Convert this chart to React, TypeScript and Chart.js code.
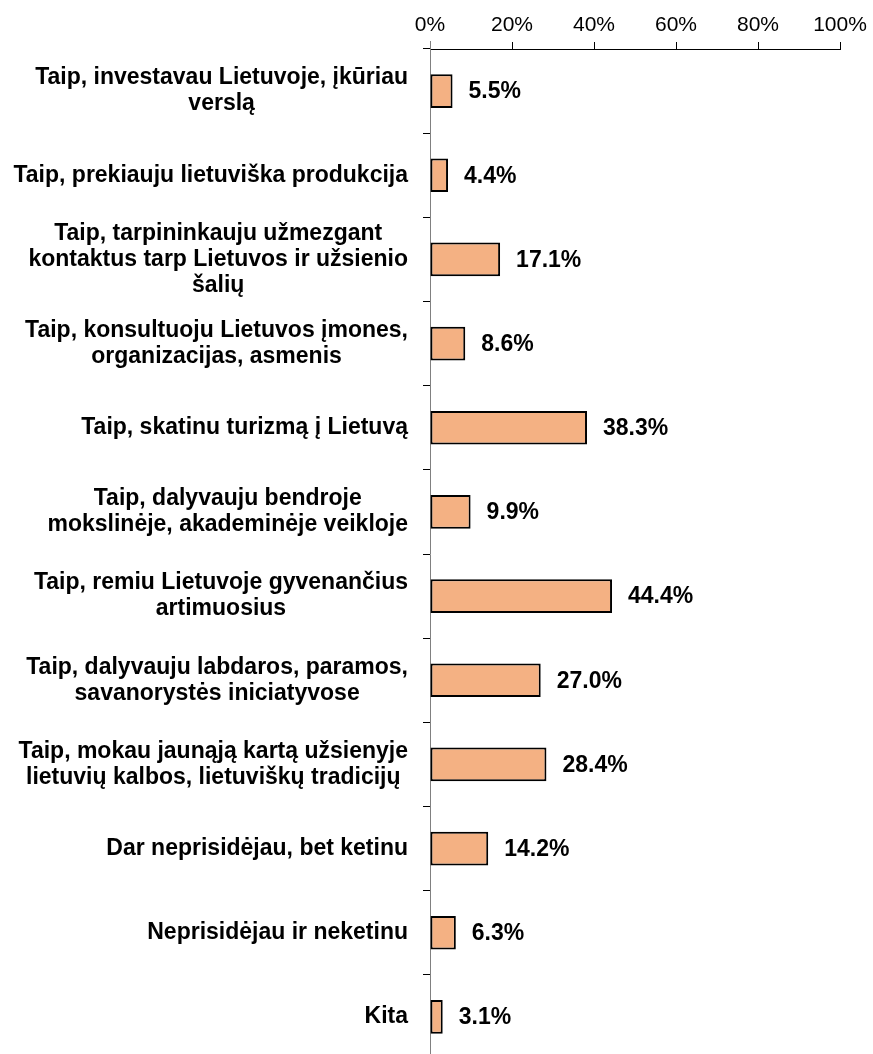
import React, { useEffect, useRef } from "react";
import { Chart, registerables } from "chart.js";

Chart.register(...registerables);

const categories: string[][] = [
  ["Taip, investavau Lietuvoje, įkūriau", "verslą"],
  ["Taip, prekiauju lietuviška produkcija"],
  ["Taip, tarpininkauju užmezgant", "kontaktus tarp Lietuvos ir užsienio", "šalių"],
  ["Taip, konsultuoju Lietuvos įmones,", "organizacijas, asmenis"],
  ["Taip, skatinu turizmą į Lietuvą"],
  ["Taip, dalyvauju bendroje", "mokslinėje, akademinėje veikloje"],
  ["Taip, remiu Lietuvoje gyvenančius", "artimuosius"],
  ["Taip, dalyvauju labdaros, paramos,", "savanorystės iniciatyvose"],
  ["Taip, mokau jaunąją kartą užsienyje", "lietuvių kalbos, lietuviškų tradicijų"],
  ["Dar neprisidėjau, bet ketinu"],
  ["Neprisidėjau ir neketinu"],
  ["Kita"],
];

const values: number[] = [5.5, 4.4, 17.1, 8.6, 38.3, 9.9, 44.4, 27.0, 28.4, 14.2, 6.3, 3.1];

const xTicks: number[] = [0, 20, 40, 60, 80, 100];

const FONT = '"Liberation Sans", Arial, sans-serif';

const labelPlugin = {
  id: "customLabels",
  afterDraw(chart: any) {
    const ctx = chart.ctx;
    const yScale = chart.scales.y;
    const xScale = chart.scales.x;
    ctx.save();
    // y axis stub above the x axis line
    ctx.strokeStyle = "#808080";
    ctx.lineWidth = 1;
    ctx.beginPath();
    ctx.moveTo(Math.round(xScale.left) + 0.5, yScale.top - 8);
    ctx.lineTo(Math.round(xScale.left) + 0.5, yScale.top);
    ctx.stroke();
    // category labels
    ctx.font = `bold 23px ${FONT}`;
    ctx.fillStyle = "#000";
    ctx.textBaseline = "middle";
    ctx.textAlign = "center";
    const rightEdge = xScale.left - 22;
    const lineH = 26;
    categories.forEach((lines, i) => {
      const yc = yScale.getPixelForValue(i);
      const maxW = Math.max(...lines.map((l) => ctx.measureText(l).width));
      const cx = rightEdge - maxW / 2;
      const y0 = yc - ((lines.length - 1) * lineH) / 2;
      lines.forEach((l, k) => ctx.fillText(l, cx, y0 + k * lineH));
    });
    // value labels
    ctx.font = `bold 23px ${FONT}`;
    ctx.textAlign = "left";
    values.forEach((v, i) => {
      const x = xScale.getPixelForValue(v);
      const y = yScale.getPixelForValue(i);
      ctx.fillText(v.toFixed(1) + "%", x + 16, y + 1);
    });
    ctx.restore();
  },
};

export default function App() {
  const ref = useRef<HTMLCanvasElement | null>(null);
  useEffect(() => {
    if (!ref.current) return;
    const chart = new Chart(ref.current, {
      type: "bar",
      data: {
        labels: categories.map((c) => c.join(" ")),
        datasets: [
          {
            data: values,
            backgroundColor: "#F4B183",
            borderColor: "#000000",
            borderWidth: 2,
            borderSkipped: false,
            categoryPercentage: 1,
            barPercentage: 0.4,
          },
        ],
      },
      options: {
        indexAxis: "y",
        animation: false,
        responsive: true,
        maintainAspectRatio: false,
        layout: { padding: { left: 0, right: 33, top: 0, bottom: 0 } },
        plugins: {
          legend: { display: false },
          tooltip: { enabled: false },
        },
        scales: {
          x: {
            type: "linear",
            position: "top",
            min: 0,
            max: 100,
            afterBuildTicks: (scale: any) => {
              scale.ticks = xTicks.map((v) => ({ value: v }));
            },
            afterFit: (scale: any) => {
              scale.height = 49;
            },
            ticks: {
              color: "#000",
              font: { family: FONT, size: 21 },
              padding: 4,
              callback: (v: any) => v + "%",
            },
            grid: {
              display: true,
              drawOnChartArea: false,
              drawTicks: true,
              tickLength: 7,
              color: (c: any) => (c.tick && c.tick.value === 0 ? "#808080" : "#000"),
              lineWidth: 1,
            },
            border: { display: true, color: "#000", width: 1 },
          },
          y: {
            type: "category",
            afterFit: (scale: any) => {
              scale.width = 430;
            },
            ticks: { display: false },
            grid: {
              display: true,
              offset: true,
              drawOnChartArea: false,
              drawTicks: true,
              tickLength: 7,
              color: "#000",
              lineWidth: 1,
            },
            border: { display: true, color: "#808080", width: 1 },
          },
        },
      },
      plugins: [labelPlugin],
    });
    return () => chart.destroy();
  }, []);
  return (
    <div style={{ position: "fixed", left: 0, top: 0, width: 873, height: 1059, background: "#fff" }}>
      <canvas ref={ref} />
    </div>
  );
}
